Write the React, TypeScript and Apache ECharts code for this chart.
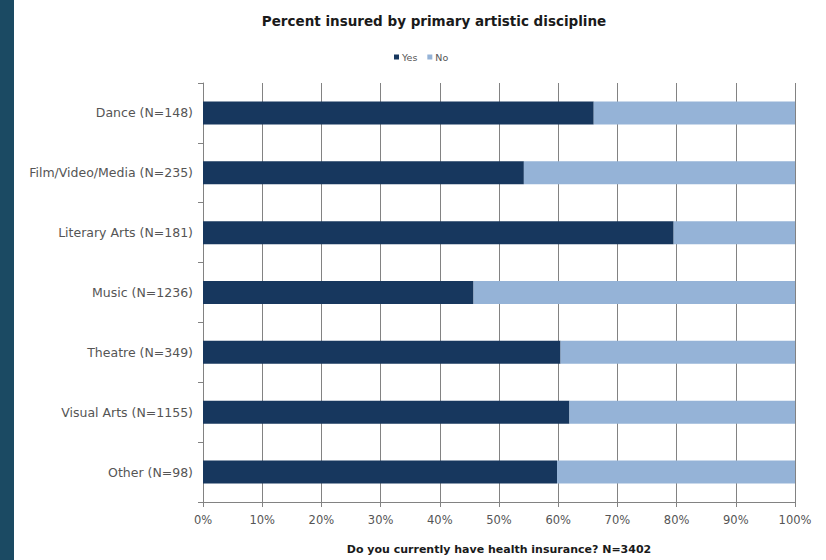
import React, { useEffect, useRef } from "react";
import * as echarts from "echarts";

const categories = [
  "Dance (N=148)",
  "Film/Video/Media (N=235)",
  "Literary Arts (N=181)",
  "Music (N=1236)",
  "Theatre (N=349)",
  "Visual Arts (N=1155)",
  "Other (N=98)",
];
const yesValues = [66, 54.2, 79.5, 45.7, 60.4, 61.9, 59.8];
const noValues = yesValues.map((v) => Math.round((100 - v) * 10) / 10);
const seriesNames = ["Yes", "No"];

export default function App() {
  const ref = useRef<HTMLDivElement>(null);
  useEffect(() => {
    if (!ref.current) return;
    const chart = echarts.init(ref.current, null, { renderer: "svg" });
    const font = "DejaVu Sans, Liberation Sans, Arial, sans-serif";
    chart.setOption({
      animation: false,
      backgroundColor: "#ffffff",
      title: {
        text: "Percent insured by primary artistic discipline",
        left: 429,
        top: 9,
        textAlign: "center",
        textStyle: { fontFamily: font, fontSize: 13.5, fontWeight: "bold", color: "#1a1a1a" },
      },
      legend: {
        data: seriesNames,
        left: 389,
        top: 47,
        itemWidth: 5,
        itemHeight: 5,
        itemGap: 10,
        icon: "rect",
        textStyle: { fontFamily: font, fontSize: 9.5, color: "#555555", padding: [0, 0, 0, -2] },
      },
      graphic: [
        { type: "rect", shape: { x: 0, y: 0, width: 14, height: 560 }, style: { fill: "#1b4a63" } },
      ],
      grid: { left: 203, right: 31, top: 83, bottom: 58, containLabel: false },
      xAxis: {
        type: "value",
        min: 0,
        max: 100,
        interval: 10,
        name: "Do you currently have health insurance? N=3402",
        nameLocation: "middle",
        nameGap: 42,
        nameTextStyle: { fontFamily: font, fontSize: 11, fontWeight: "bold", color: "#1a1a1a" },
        axisLine: { show: true, lineStyle: { color: "#828282", width: 1 } },
        axisTick: { show: true, length: 5, lineStyle: { color: "#828282" } },
        axisLabel: {
          formatter: "{value}%",
          fontFamily: font,
          fontSize: 11.5,
          color: "#555555",
          margin: 12,
        },
        splitLine: { show: true, lineStyle: { color: "#828282", width: 1 } },
      },
      yAxis: {
        type: "category",
        data: categories,
        inverse: true,
        axisLine: { show: true, lineStyle: { color: "#828282", width: 1 } },
        axisTick: { show: true, length: 5, lineStyle: { color: "#828282" } },
        axisLabel: { fontFamily: font, fontSize: 12.5, color: "#555555", margin: 10 },
      },
      series: [
        {
          name: seriesNames[0],
          type: "bar",
          stack: "total",
          data: yesValues,
          barWidth: 23,
          itemStyle: { color: "#17375e" },
        },
        {
          name: seriesNames[1],
          type: "bar",
          stack: "total",
          data: noValues,
          barWidth: 23,
          itemStyle: { color: "#95b3d7" },
        },
      ],
    });
    return () => chart.dispose();
  }, []);
  return (
    <div
      ref={ref}
      style={{ position: "fixed", left: 0, top: 0, width: 826, height: 560 }}
    />
  );
}
